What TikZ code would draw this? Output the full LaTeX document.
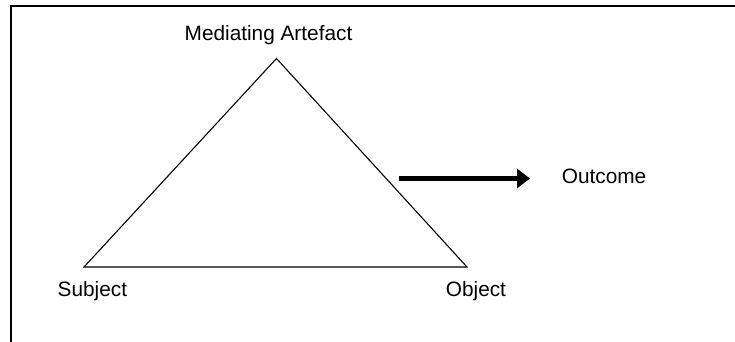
\documentclass[tikz,border=0pt]{standalone}
\usepackage{fontspec}
\setmainfont{Liberation Sans}
\usetikzlibrary{arrows.meta}
\begin{document}
\begin{tikzpicture}
    [x=0.5pt, y=-0.5pt, every node/.style={inner sep=0pt, font=\fontsize{10.4}{12}\selectfont}]
    \clip (0,0) rectangle (735,342);
    \draw[line width=1pt] (11,360) -- (11,6.5) -- (760,6.5);
    \coordinate (top) at (276.5,58.5);
    \coordinate (left) at (84,267);
    \coordinate (right) at (467,267);
    \draw[line width=0.55pt] (top) -- (left) -- (right) -- cycle;
    \node[anchor=base] (artefact) at (268.5,41) {Mediating Artefact};
    \node[anchor=base west] (subject) at (57.3,296.7) {Subject};
    \node[anchor=base west] (object) at (445.5,296.7) {Object};
    \node[anchor=base west] (outcome) at (561.5,184) {Outcome};
    \coordinate (arrowstart) at (399,178.5);
    \coordinate (arrowend) at (530,178.5);
    \draw[line width=2.5pt,-{Triangle[length=6.5pt,width=9.5pt]}] (arrowstart) -- (arrowend);
  \end{tikzpicture}
\end{document}
